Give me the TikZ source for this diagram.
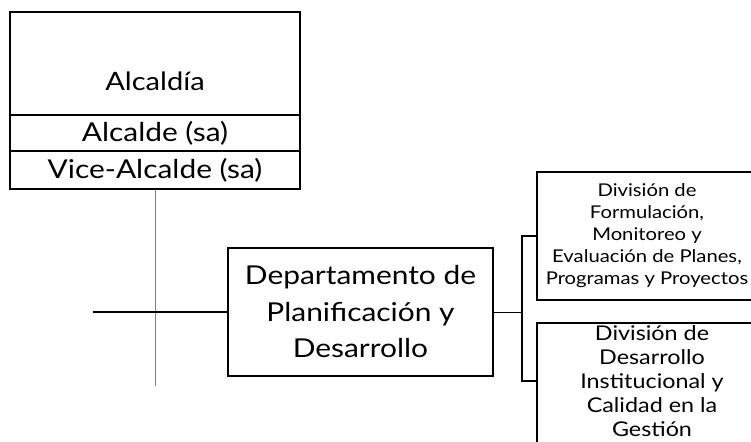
\documentclass[tikz,border=0pt]{standalone}
\usepackage{fontspec}
\setmainfont[FakeStretch=1.15]{Lato}
\begin{document}
\begin{tikzpicture}[x=1pt, y=-1pt]
\tikzstyle{every node}=[inner sep=0pt, align=center];
\tikzstyle{box}=[draw, shape=rectangle, line width=1.5pt];
\useasboundingbox (0,0) rectangle (751,441);
\clip (0,0) rectangle (751,441);
% head
\node [box, minimum width=290pt, minimum height=103pt] (alc) at (155,63.5) {};
\node [font=\fontsize{25.3}{25.3}\selectfont] (t0) at (155,81) {Alcaldía};
\node [box, minimum width=290pt, minimum height=36pt, font=\fontsize{26}{26}\selectfont] (alc1) at (155,133) {Alcalde (sa)};
\node [box, minimum width=290pt, minimum height=38pt, font=\fontsize{26}{26}\selectfont] (alc2) at (155,170) {Vice-Alcalde (sa)};
\coordinate (g0) at (155,386);
\draw [gray, line width=1pt] (alc2.south) -- (g0);
% department
\node [box, minimum width=265pt, minimum height=128pt, font=\fontsize{26}{36.5}\selectfont] (dep) at (360.5,312) {Departamento de\\Planificación y\\Desarrollo};
\coordinate (h0) at (93,312);
\draw [line width=2pt] (h0) -- (dep.west);
% divisions
\node [box, minimum width=220pt, minimum height=128pt, font=\fontsize{17.6}{22}\selectfont] (d1) at (647,236) {División de\\Formulación,\\Monitoreo y\\Evaluación de Planes,\\Programas y Proyectos};
\node [box, minimum width=230pt, minimum height=130pt] (d2) at (652,388) {};
\node [font=\fontsize{20.3}{24}\selectfont] (t2) at (652,381) {División de\\Desarrollo\\Institucional y\\Calidad en la\\Gestión};
\coordinate (br) at (522,312);
\draw [line width=1pt] (dep.east) -- (br);
\draw [line width=2pt] (d1.west) -| (br) |- (t2 -| d2.west); % bracket
\end{tikzpicture}
\end{document}
